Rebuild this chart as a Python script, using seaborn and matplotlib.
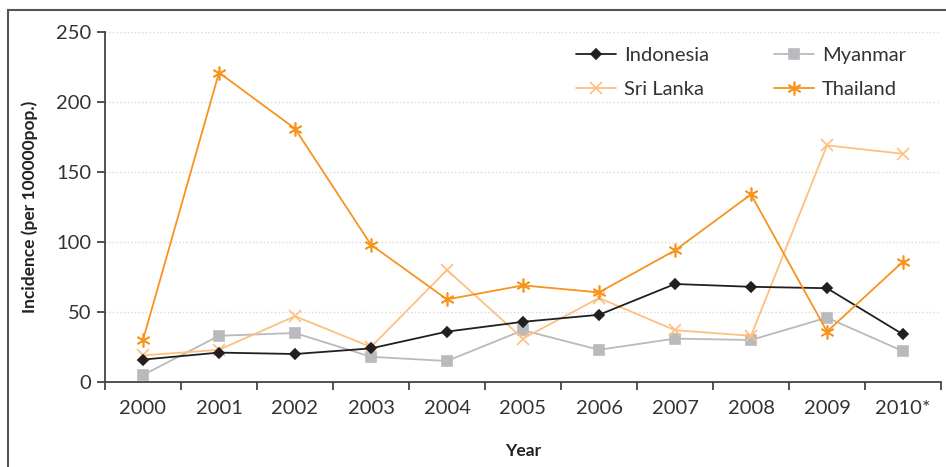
import pandas as pd
import seaborn as sns
import matplotlib.pyplot as plt
from matplotlib.patches import Rectangle
from matplotlib.ticker import FixedLocator

years = ["2000", "2001", "2002", "2003", "2004", "2005", "2006", "2007", "2008", "2009", "2010*"]
indonesia = [16, 21, 20, 24, 36, 43, 48, 70, 68, 67, 34]
myanmar = [5, 33, 35, 18, 15, 37, 23, 31, 30, 46, 22]
sri_lanka = [19, 23, 47, 25, 80, 31, 60, 37, 33, 169, 163]
thailand = [30, 221, 181, 98, 59, 69, 64, 94, 134, 36, 86]

countries = ["Indonesia", "Myanmar", "Sri Lanka", "Thailand"]
series = [indonesia, myanmar, sri_lanka, thailand]
df = pd.DataFrame({"Year": list(range(len(years))) * 4,
                   "Country": [c for c in countries for _ in years],
                   "Incidence": [v for s in series for v in s]})

sns.set_style("white")
plt.rcParams["font.family"] = ["Lato", "DejaVu Sans"]
text_col = "#333333"

palette = {"Indonesia": "#231f20", "Myanmar": "#b9babd", "Sri Lanka": "#fdc17f", "Thailand": "#f7941d"}
markers = {"Indonesia": "D", "Myanmar": "s", "Sri Lanka": "x", "Thailand": (6, 2, 0)}
msizes = {"Indonesia": 5, "Myanmar": 6.5, "Sri Lanka": 9, "Thailand": 10}

fig = plt.figure(figsize=(9.46, 4.67), dpi=100)
ax = fig.add_axes([105 / 946, 1 - 382 / 467, (941 - 105) / 946, 350 / 467])

# draw order: Myanmar, Sri Lanka, Indonesia, Thailand on top
for c in ["Myanmar", "Sri Lanka", "Indonesia", "Thailand"]:
    sub = df[df["Country"] == c]
    sns.lineplot(data=sub, x="Year", y="Incidence", color=palette[c], marker=markers[c],
                 markersize=msizes[c], markeredgewidth=1.2, markeredgecolor=palette[c],
                 linewidth=1.3, label=c, ax=ax)

ax.set_xlim(-0.5, 10.5)
ax.set_ylim(0, 250)
ax.set_yticks([0, 50, 100, 150, 200, 250])
ax.set_xticks(range(11))
ax.set_xticklabels(years)
ax.xaxis.set_minor_locator(FixedLocator([i - 0.5 for i in range(12)]))
ax.tick_params(axis="x", which="major", length=0, pad=13, labelsize=14.5, labelcolor=text_col)
ax.tick_params(axis="x", which="minor", length=6, width=1.3, color="#444444", direction="out", bottom=True)
ax.tick_params(axis="y", length=6, width=1.3, color="#444444", direction="out", left=True,
               labelsize=14.5, labelcolor=text_col, pad=4)

ax.yaxis.grid(True, linestyle=":", color="#d9d9d9", linewidth=1)
ax.set_axisbelow(True)
for s in ["top", "right"]:
    ax.spines[s].set_visible(False)
for s in ["left", "bottom"]:
    ax.spines[s].set_color("#444444")
    ax.spines[s].set_linewidth(1.3)

ax.set_xlabel("Year", fontsize=12.5, fontweight="bold", color="#222222", labelpad=19)
ax.set_ylabel("Incidence (per 100000pop.)", fontsize=12.5, fontweight="bold", color="#222222", labelpad=13)

handles, labels = ax.get_legend_handles_labels()
hmap = dict(zip(labels, handles))
order = ["Indonesia", "Sri Lanka", "Myanmar", "Thailand"]
ax.legend([hmap[k] for k in order], order, ncol=2, frameon=False, fontsize=14.5,
          loc="upper left", bbox_to_anchor=(558 / 946, 1 - 29 / 467), bbox_transform=fig.transFigure,
          handlelength=2.0, handletextpad=0.4, columnspacing=3.2, labelspacing=0.85, labelcolor=text_col)

fig.patches.append(Rectangle((8 / 946, -0.2), 2, 1 - 10 / 467 + 0.2, transform=fig.transFigure,
                             fill=False, edgecolor="#555555", linewidth=1.5))

fig.savefig("out.png", dpi=100)
